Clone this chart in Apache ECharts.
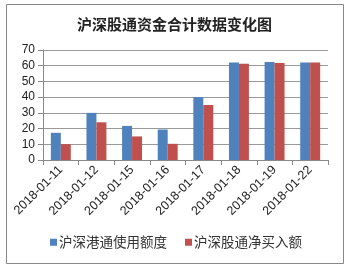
<!DOCTYPE html>
<html><head><meta charset="utf-8">
<script src="https://cdn.jsdelivr.net/npm/echarts@6/dist/echarts.min.js"></script>
<style>html,body{margin:0;padding:0;background:#fff}#c{width:349px;height:272px}</style>
</head><body><div id="c"></div>
<script>
const categories = ['2018-01-11','2018-01-12','2018-01-15','2018-01-16','2018-01-17','2018-01-18','2018-01-19','2018-01-22'];
const seriesNames = ['沪深港通使用额度','沪深股通净买入额'];
const hkQuota = [17.3, 30, 21.7, 19.4, 40, 62, 62.4, 62];
const netBuy = [10.1, 24, 15, 10.3, 35, 61.2, 61.8, 62];
const yTicks = [0, 10, 20, 30, 40, 50, 60, 70];

const chart = echarts.init(document.getElementById('c'), null, {renderer:'canvas'});
chart.setOption({
  animation: false,
  backgroundColor: '#fff',
  graphic: [{type:'rect', shape:{x:6.5,y:4.5,width:337,height:259}, style:{fill:'none', stroke:'#888', lineWidth:1}, z:-1}],
  title: {text:'沪深股通资金合计数据变化图', left:'center', top:12,
    textStyle:{fontFamily:'Noto Sans CJK SC', fontSize:15, fontWeight:'bold', color:'#222'}},
  grid: {left:43, right:21, top:50, bottom:112},
  legend: {bottom:18, left:45, itemWidth:7, itemHeight:7, itemGap:18, icon:'rect',
    textStyle:{fontFamily:'Noto Sans CJK SC', fontSize:13.5, color:'#333', padding:[0,0,0,-3]},
    data: seriesNames},
  xAxis: {type:'category', data:categories,
    axisLine:{lineStyle:{color:'#888'}}, axisTick:{show:true, lineStyle:{color:'#888'}},
    axisLabel:{rotate:45, fontFamily:'Liberation Sans', fontSize:12.5, color:'#222', margin:8, interval:0}},
  yAxis: {type:'value', min:yTicks[0], max:yTicks[yTicks.length-1], interval:10,
    axisLine:{show:true, lineStyle:{color:'#888'}}, axisTick:{show:true, lineStyle:{color:'#888'}},
    splitLine:{lineStyle:{color:'#999'}},
    axisLabel:{fontFamily:'Liberation Sans', fontSize:12, color:'#222', margin:8}},
  series: [
    {name:seriesNames[0], type:'bar', data:hkQuota, itemStyle:{color:'#4F81BD'}, barGap:'0%', barCategoryGap:'44%'},
    {name:seriesNames[1], type:'bar', data:netBuy, itemStyle:{color:'#C0504D'}, barGap:'0%', barCategoryGap:'44%'}
  ]
});
</script></body></html>
